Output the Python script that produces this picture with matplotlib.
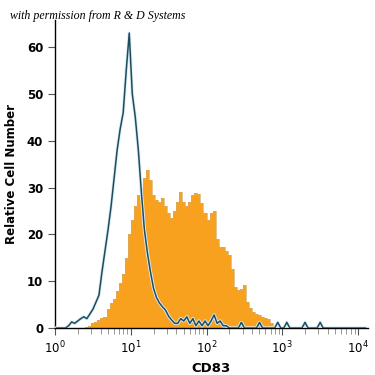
import numpy as np
import matplotlib
matplotlib.use("Agg")
import matplotlib.pyplot as plt

# histogram channels: log10(CD83) bins of 0.04 decade starting at 10^0
bin_start = 0.0
bin_width = 0.04

# isotype control (teal outline)
isotype = [0, 0, 0, 0, 0.5, 1.3, 1, 1.5, 2, 2.4,
           2, 3, 4, 5.5, 7, 12, 16.5, 21, 26, 32,
           38, 42.5, 46, 55, 63, 50, 45, 38, 29, 21,
           16, 12, 8.5, 6.5, 5.3, 4.5, 3.8, 2.5, 1.7, 1,
           1, 2, 1.5, 2.4, 1, 2, 0.5, 1.5, 0.5, 1.5,
           0.5, 1.5, 2.8, 1, 1.5, 0.5, 0.5, 0, 0, 0,
           0, 1.2, 0, 0, 0, 0, 0, 1.2, 0, 0,
           0, 0, 0, 1.2, 0, 0, 1.2, 0, 0, 0,
           0, 0, 1.2, 0, 0, 0, 0, 1.2, 0, 0,
           0, 0, 0, 0, 0, 0, 0, 0, 0, 0,
           0, 0, 0]

# CD83 stained cells (orange fill)
cd83 = [0, 0, 0, 0, 0, 0, 0, 0, 0, 0,
        0.2, 0.5, 1, 1.3, 1.8, 2.2, 2.4, 4, 5.3, 6.3,
        8, 9.6, 11.5, 15, 20, 23, 26, 28.5, 30, 32,
        33.8, 31.6, 28.5, 27.4, 27, 27.8, 26, 24.5, 23.5, 25,
        27, 29, 27, 26, 27, 28.5, 28.8, 28.6, 26.7, 24.5,
        23, 24.5, 25, 19, 17.4, 17.4, 16.5, 15.5, 12.5, 8.8,
        8.1, 8.3, 9.2, 5.5, 4.3, 3.5, 3, 2.8, 2.4, 2.2,
        2, 1, 0.3, 0, 0, 0, 0, 0, 0, 0,
        0, 0, 0, 0, 0, 0, 0, 0, 0, 0,
        0, 0, 0, 0, 0, 0, 0, 0, 0, 0,
        0, 0, 0]

n = len(cd83)
edges = 10 ** (bin_start + bin_width * np.arange(n + 1))
centers = 10 ** (bin_start + bin_width * (np.arange(n) + 0.5))

fig = plt.figure(figsize=(3.75, 3.75), dpi=100)
ax = fig.add_axes([0.1467, 0.1253, 0.8343, 0.8214])

ax.stairs(cd83, edges, fill=True, color="#f7a11f", zorder=2)
ax.stairs(cd83, edges, color="#d9aa60", linewidth=0.5, zorder=2)
# faint halo under the isotype line
ax.plot(centers, isotype, color="#dcedf6", linewidth=2.4, zorder=3)
ax.plot(centers, isotype, color="#1d4c5c", linewidth=1.1, zorder=4)

ax.set_xscale("log")
ax.set_xlim(1, 10 ** 4.13)
ax.set_ylim(0, 65.8)
ax.set_yticks([0, 10, 20, 30, 40, 50, 60])
ax.set_xticks([1, 10, 100, 1000, 10000])
ax.set_xticklabels([r"$10^0$", r"$10^1$", r"$10^2$", r"$10^3$", r"$10^4$"])

for s in ["top", "right"]:
    ax.spines[s].set_visible(False)
ax.spines["left"].set_linewidth(1.0)
ax.spines["bottom"].set_linewidth(1.0)
ax.tick_params(axis="both", which="major", length=5, width=0.8, color="#555555",
               labelsize=8.5)
ax.tick_params(axis="x", which="minor", length=4, width=0.6, color="#888888")
for lab in ax.get_yticklabels():
    lab.set_fontweight("bold")

lab_font = ["Liberation Sans Narrow", "DejaVu Sans"]
ax.set_ylabel("Relative Cell Number", fontsize=8.5, fontweight="bold",
              family=lab_font, labelpad=6)
ax.set_xlabel("CD83", fontsize=9.5, fontweight="bold", family=lab_font, labelpad=4)

fig.text(0.027, 0.950, "with permission from R & D Systems", fontsize=8.6,
         style="italic", family=["Liberation Serif", "DejaVu Serif"])

fig.savefig("out.png", dpi=100)
